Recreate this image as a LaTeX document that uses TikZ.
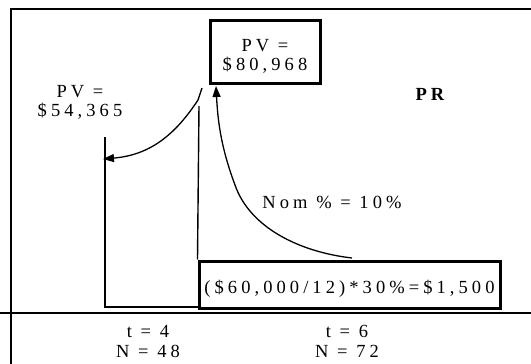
\documentclass[tikz,border=0pt]{standalone}
\usepackage{fontspec}
\setmainfont{Liberation Serif}[LetterSpace=22]
\usetikzlibrary{arrows.meta}
\newcommand{\lowerby}[2]{\raisebox{-#1}[\height][\depth]{#2}}
\begin{document}
\begin{tikzpicture}[x=1pt,y=-1pt,
  txt/.style={font=\fontsize{18.5}{19}\selectfont, align=center, inner sep=0pt},
  bigbox/.style={draw, line width=3pt, inner sep=0pt},
  frame/.style={line width=2pt},
  thin/.style={line width=1.4pt},
  arr/.style={line width=1.3pt, -{Triangle[length=11pt,width=8pt]}}]
\useasboundingbox (0,0) rectangle (531,364);
% frame
\draw[frame] (11,364) -- (11,9) -- (531,9);
\draw[frame] (0,313) -- (531,313);
% boxes
\node[txt,bigbox,minimum width=110pt,minimum height=63pt] (b1) at (265,51.5)
  {\lowerby{6pt}{\begin{tabular}{@{}c@{}}PV =\\\$80,968\end{tabular}}};
\node[txt,bigbox,minimum width=301pt,minimum height=47pt] (b2) at (349.5,284.5)
  {\lowerby{4pt}{(\$60,000/12)*30\%=\$1,500}};
% labels
\node[txt] (pv) at (80,102) {PV =\\\$54,365};
\node[txt,font=\fontsize{18.5}{19}\selectfont\bfseries] (pr) at (430,94) {PR};
\node[txt] (nom) at (332,202) {Nom \% = 10\%};
\node[txt,font=\fontsize{18.5}{20}\selectfont] (t4) at (148,341) {t = 4\\N = 48};
\node[txt,font=\fontsize{18.5}{20}\selectfont] (t6) at (347,341) {t = 6\\N = 72};
% time lines
\coordinate (a1) at (105,137);
\coordinate (a2) at (105,307);
\coordinate (a3) at (199,307);
\coordinate (c1) at (199,106);
\draw[thin] (a1) -- (a2) -- (a3);
\draw[thin] (c1) -- (b2.north west);
% discount arrow
\coordinate (d0) at (202,88);
\coordinate (d1) at (198,100);
\coordinate (d2) at (103,159);
\draw[arr] (d0) -- (d1) .. controls (175,135) and (150,155) .. (d2);
% growth arrow
\coordinate (g0) at (352,258);
\coordinate (g1) at (235,185);
\coordinate (g2) at (216,86);
\draw[arr] (g0) .. controls (300,252) and (250,228) .. (g1) .. controls (222,150) and (218,125) .. (g2);
\end{tikzpicture}
\end{document}
